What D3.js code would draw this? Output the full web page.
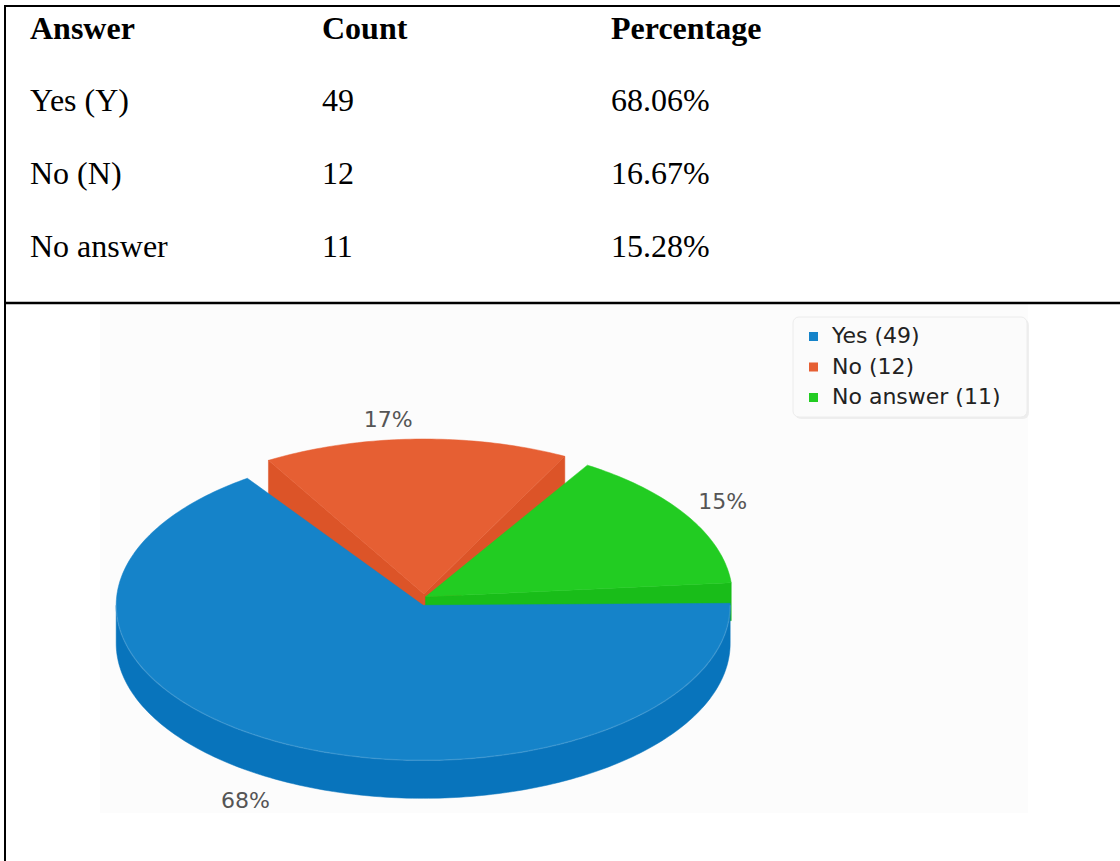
<!DOCTYPE html>
<html>
<head>
<meta charset="utf-8">
<script src="https://cdn.jsdelivr.net/npm/d3@7"></script>
<style>
  html, body { margin: 0; padding: 0; background: #ffffff; }
  svg { display: block; }
</style>
</head>
<body>
<script>
// ---------------- data ----------------
const answers      = ["Yes (Y)", "No (N)", "No answer"];
const counts       = [49, 12, 11];
const percentages  = ["68.06%", "16.67%", "15.28%"];
const legendNames  = ["Yes", "No", "No answer"];
const headers      = ["Answer", "Count", "Percentage"];

// ---------------- styles ----------------
const topColors  = ["#1583c9", "#e65f33", "#22cc22"];
const sideColors = ["#0874bc", "#dc5428", "#19bd19"];

const W = 1120, H = 861;
const svg = d3.select("body").append("svg").attr("width", W).attr("height", H);
svg.append("rect").attr("width", W).attr("height", H).attr("fill", "#ffffff");

// ---------------- table ----------------
const colX = [30, 322, 611];
const rowY = [39, 111, 184, 257];
const serif = "'Liberation Serif','Times New Roman',Times,serif";

const tbl = svg.append("g");
headers.forEach((h, i) => {
  tbl.append("text").attr("x", colX[i]).attr("y", rowY[0])
    .attr("font-family", serif).attr("font-size", 32).attr("font-weight", "bold")
    .attr("fill", "#000").text(h);
});
answers.forEach((a, r) => {
  const cells = [a, String(counts[r]), percentages[r]];
  cells.forEach((c, i) => {
    tbl.append("text").attr("x", colX[i]).attr("y", rowY[r + 1])
      .attr("font-family", serif).attr("font-size", 32)
      .attr("fill", "#000").text(c);
  });
});

// ---------------- chart panel ----------------
svg.append("rect").attr("x", 100).attr("y", 304).attr("width", 928).attr("height", 509)
  .attr("fill", "#fcfcfc");

// ---------------- 3D pie ----------------
const cx = 424, cy = 600, rx = 307, ry = 155, depth = 38, explode = 6;
const deg = Math.PI / 180;
const start = 87 * deg;
const pad = 4.5 * deg;
const pie = d3.pie().sort(null).startAngle(start).endAngle(start + 2 * Math.PI).padAngle(pad);
const arcs = pie(counts);
const total = d3.sum(counts);

const sx = d3.scaleLinear().domain([-1, 1]).range([-rx, rx]);
const sy = d3.scaleLinear().domain([-1, 1]).range([-ry, ry]);

function slicePt(o, a, dz) {
  return [o[0] + sx(Math.sin(a)), o[1] - sy(Math.cos(a)) + (dz || 0)];
}
function arcPts(o, a0, a1, dz) {
  const n = Math.max(2, Math.ceil(Math.abs(a1 - a0) / deg));
  return d3.range(n + 1).map(k => slicePt(o, a0 + (a1 - a0) * k / n, dz));
}
const line = d3.line();

const slices = arcs.map((d, i) => {
  const mid = (d.startAngle + d.endAngle) / 2;
  const a0 = d.startAngle + d.padAngle / 2, a1 = d.endAngle - d.padAngle / 2;
  const o = [cx + 0.3 * explode * Math.sin(mid), cy - explode * Math.cos(mid)];
  return { d, i, mid, a0, a1, o };
}).sort((a, b) => a.o[1] - b.o[1]);

const pieG = svg.append("g");
slices.forEach(s => {
  const { i, o, a0, a1 } = s;
  const g = pieG.append("g");
  // radial walls (only those facing the viewer)
  [[a0, Math.sin(a0) < 0], [a1, Math.sin(a1) > 0]].forEach(([a, vis]) => {
    if (!vis) return;
    const p = slicePt(o, a), q = slicePt(o, a, depth);
    g.append("path").attr("d", line([o, p, q, [o[0], o[1] + depth]]) + "Z")
      .attr("fill", sideColors[i]).attr("stroke", sideColors[i]).attr("stroke-width", 0.5);
  });
  // outer wall (front half only)
  const f0 = Math.max(a0, Math.PI / 2), f1 = Math.min(a1, 1.5 * Math.PI);
  if (f1 > f0) {
    const top = arcPts(o, f0, f1, 0), bot = arcPts(o, f1, f0, depth);
    g.append("path").attr("d", line(top.concat(bot)) + "Z")
      .attr("fill", sideColors[i]).attr("stroke", sideColors[i]).attr("stroke-width", 0.5);
  }
  // top face
  const face = [o].concat(arcPts(o, a0, a1, 0));
  g.append("path").attr("d", line(face) + "Z")
    .attr("fill", topColors[i]).attr("stroke", topColors[i]).attr("stroke-width", 0.5);
  if (f1 > f0) {
    g.append("path").attr("d", line(arcPts(o, f0, f1, 0)))
      .attr("fill", "none").attr("stroke", "rgba(255,255,255,0.12)").attr("stroke-width", 1.5);
  }
});

// percentage labels
const sans = "'DejaVu Sans', Verdana, sans-serif";
const labelRx = 356, labelRy = 182;
const labelShift = { 0: [-16, -5], 1: [-26, 7], 2: [-4, 0] };
slices.forEach(s => {
  const { d, i, mid, o } = s;
  const front = Math.cos(mid) < 0 ? depth : 0;
  const sh = labelShift[i] || [0, 0];
  const x = cx + labelRx * Math.sin(mid) + sh[0];
  const y = o[1] - labelRy * Math.cos(mid) + front + 8 + sh[1];
  svg.append("text").attr("x", x).attr("y", y).attr("text-anchor", "middle")
    .attr("font-family", sans).attr("font-size", 22).attr("fill", "#555")
    .text(Math.round(d.value / total * 100) + "%");
});

// ---------------- legend ----------------
const leg = svg.append("g");
leg.append("rect").attr("x", 795).attr("y", 319).attr("width", 234).attr("height", 100).attr("rx", 6)
  .attr("fill", "#e8e8e8").attr("opacity", 0.7);
leg.append("rect").attr("x", 793).attr("y", 317).attr("width", 234).attr("height", 100).attr("rx", 6)
  .attr("fill", "#fbfbfb").attr("stroke", "#ececec");
const legY = d3.scalePoint().domain(d3.range(counts.length)).range([343, 404]);
legendNames.forEach((n, i) => {
  leg.append("rect").attr("x", 809).attr("y", legY(i) - 11).attr("width", 9).attr("height", 9)
    .attr("fill", topColors[i]);
  leg.append("text").attr("x", 832).attr("y", legY(i))
    .attr("font-family", sans).attr("font-size", 22).attr("fill", "#222")
    .text(`${n} (${counts[i]})`);
});

// ---------------- table borders ----------------
svg.append("line").attr("x1", 4).attr("x2", W).attr("y1", 6).attr("y2", 6)
  .attr("stroke", "#000").attr("stroke-width", 2);
svg.append("line").attr("x1", 4).attr("x2", W).attr("y1", 303).attr("y2", 303)
  .attr("stroke", "#000").attr("stroke-width", 2.5);
svg.append("line").attr("x1", 5).attr("x2", 5).attr("y1", 5).attr("y2", H)
  .attr("stroke", "#000").attr("stroke-width", 2);
</script>
</body>
</html>
